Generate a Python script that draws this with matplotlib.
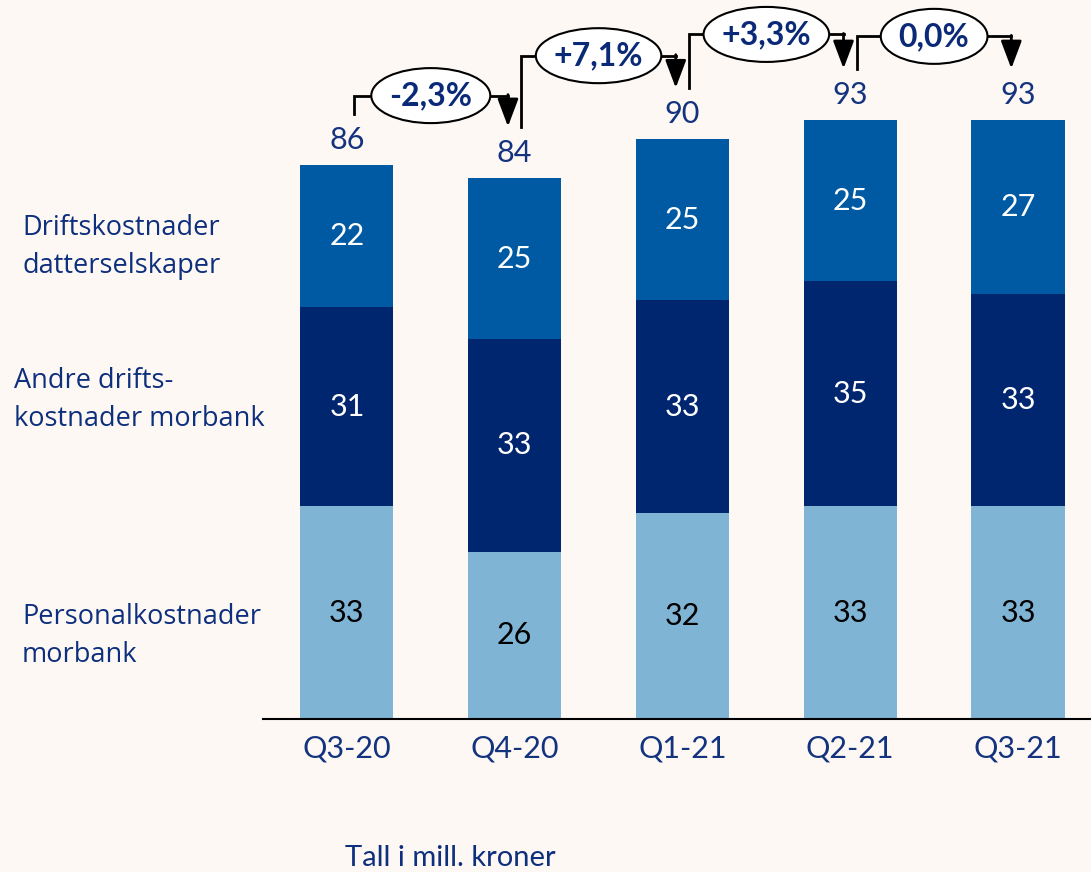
import matplotlib.pyplot as plt
from matplotlib.patches import Ellipse
import numpy as np

quarters = ['Q3-20', 'Q4-20', 'Q1-21', 'Q2-21', 'Q3-21']
personal = [33, 26, 32, 33, 33]
andre = [31, 33, 33, 35, 33]
datter = [22, 25, 25, 25, 27]
totals = [86, 84, 90, 93, 93]
changes = ['-2,3%', '+7,1%', '+3,3%', '0,0%']

series_labels = ['Personalkostnader\nmorbank',
                 'Andre drifts-\nkostnader morbank',
                 'Driftskostnader\ndatterselskaper']

bg = '#FDF8F4'
c_light = '#7FB4D4'
c_mid = '#00266F'
c_top = '#0059A3'
navy = '#14337F'

plt.rcParams['font.family'] = ['Lato', 'DejaVu Sans']

W, H = 1091, 872
fig = plt.figure(figsize=(W / 100, H / 100), dpi=100, facecolor=bg)
ax = fig.add_axes([263 / W, 153 / H, 828 / W, 719 / H])
ax.set_facecolor(bg)

x = np.arange(len(quarters))
w = 0.555
p = np.array(personal)
a = np.array(andre)
d = np.array(datter)

ax.bar(x, p, w, color=c_light)
ax.bar(x, a, w, bottom=p, color=c_mid)
ax.bar(x, d, w, bottom=p + a, color=c_top)

fs = 22
for i in x:
    ax.text(i, p[i] / 2, str(p[i]), ha='center', va='center', fontsize=fs, color='black')
    ax.text(i, p[i] + a[i] / 2, str(a[i]), ha='center', va='center', fontsize=fs, color='white')
    ax.text(i, p[i] + a[i] + d[i] / 2, str(d[i]), ha='center', va='center', fontsize=fs, color='white')
    ax.text(i, totals[i] + 3.9, str(totals[i]), ha='center', va='center', fontsize=fs, color=navy)

xmin, xmax = -0.5, 4.435
ymax = 719 / 6.44
ax.set_xlim(xmin, xmax)
ax.set_ylim(0, ymax)
px_x = 828 / (xmax - xmin)
px_y = 719 / ymax

renderer = fig.canvas.get_renderer()

# change brackets between quarters
rise = [2.8, 5, 5.3, 5]
for i, txt in enumerate(changes):
    x0 = i + 0.04
    x1 = i + 1 - 0.04
    y0 = totals[i] + 8
    y1 = totals[i + 1] + 8
    top = max(y0, y1) + rise[i]
    ax.plot([x0, x0, x1], [y0, top, top], color='black', lw=2, solid_joinstyle='miter', zorder=3)
    ax.annotate('', xy=(x1, y1), xytext=(x1, top + 0.15),
                arrowprops=dict(arrowstyle='-|>,head_length=0.85,head_width=0.32',
                                mutation_scale=20, lw=2, color='black',
                                shrinkA=0, shrinkB=0), zorder=3)
    t = ax.text(i + 0.5, top, txt, ha='center', va='center', fontsize=23, fontweight='bold',
                color='#0A2A78', zorder=5)
    tw = t.get_window_extent(renderer).width
    ax.add_patch(Ellipse((i + 0.5, top), (tw + 36) / px_x, 55 / px_y,
                         fc='white', ec='black', lw=1.5, zorder=4))

ax.set_xticks(x)
ax.set_xticklabels(quarters, fontsize=fs, color=navy)
ax.set_yticks([])
ax.tick_params(axis='x', length=0, pad=11)
for s in ['top', 'right', 'left']:
    ax.spines[s].set_visible(False)
ax.spines['bottom'].set_color('black')
ax.spines['bottom'].set_linewidth(1.5)

label_y = [636, 400, 247]
label_x = [22, 14, 22]
for lbl, ly, lx in zip(series_labels, label_y, label_x):
    fig.text(lx / W, 1 - ly / H, lbl, ha='left', va='center', fontsize=19.5,
             color='#0D2F7D', family=['Open Sans', 'DejaVu Sans'], linespacing=1.45)

fig.text(450 / W, 1 - 858 / H, 'Tall i mill. kroner', ha='center', va='center',
         fontsize=21, color='#0D2F7D')

fig.savefig('out.png', dpi=100, facecolor=bg)
